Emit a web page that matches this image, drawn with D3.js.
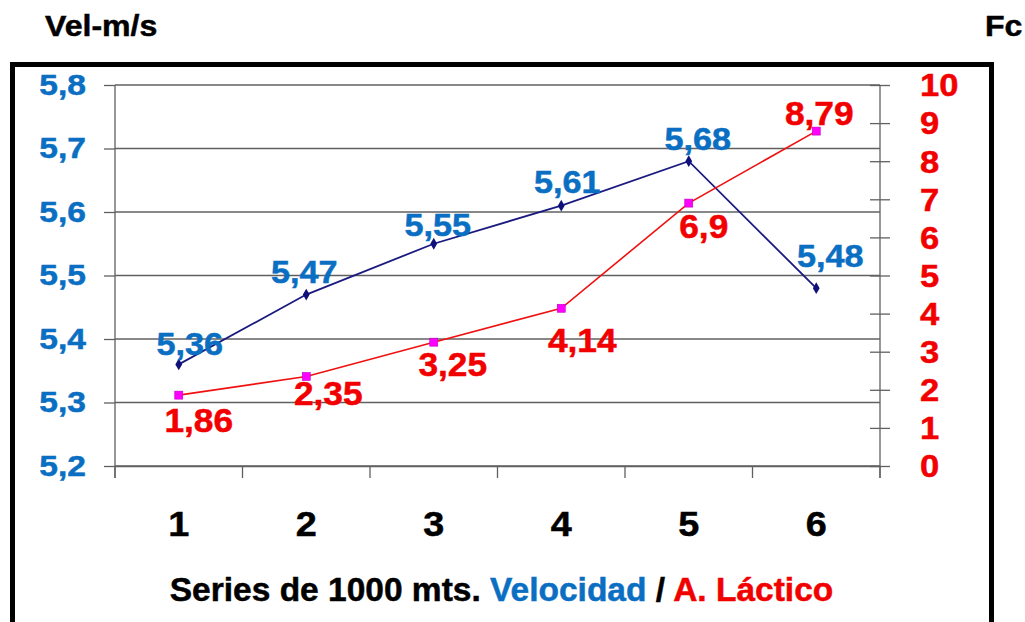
<!DOCTYPE html>
<html>
<head>
<meta charset="utf-8">
<script src="https://cdn.jsdelivr.net/npm/d3@7"></script>
<style>
  body { margin: 0; background: #fff; }
  text { font-family: "Liberation Sans", Arial, sans-serif; font-weight: bold; }
</style>
</head>
<body>
<div id="app"></div>
<script>
// data
const series = ['1', '2', '3', '4', '5', '6']
const velocidad = [5.36, 5.47, 5.55, 5.61, 5.68, 5.48]
const lactico = [1.86, 2.35, 3.25, 4.14, 6.9, 8.79]
const velTicks = [5.2, 5.3, 5.4, 5.5, 5.6, 5.7, 5.8]
const lacTicks = [0, 1, 2, 3, 4, 5, 6, 7, 8, 9, 10]

// label nudges [dx, dy] from the marker, as placed in the original
const velNudge = [[11, -9], [-2, -12], [4, -8], [6, -13], [9, -11], [14, -21]]
const lacNudge = [[20, 37], [22, 29], [19, 34], [21, 44], [15, 35], [3, -6]]

const BLUE = '#0a6fc2'
const RED = '#f20000'
const comma = (v) => String(v).replace('.', ',')

const W = 1025, H = 622
const pLeft = 115, pRight = 880, pTop = 85, pBottom = 466

// widen text a bit, the original glyphs are broader than Liberation
function stretch(sel, k) {
  sel.each(function () {
    const t = d3.select(this)
    const tx = +t.attr('x') || 0
    const ty = +t.attr('y') || 0
    t.attr('x', 0).attr('y', 0)
      .attr('transform', `translate(${tx},${ty}) scale(${k},1)`)
  })
}
function heavy(sel) {
  sel.attr('stroke', function () { return d3.select(this).attr('fill') })
    .attr('stroke-width', 0.5)
}

const svg = d3.select('#app').append('svg')
  .attr('width', W)
  .attr('height', H)

// frame
svg.append('rect')
  .attr('x', 12.5).attr('y', 64.5)
  .attr('width', 979).attr('height', 620)
  .attr('fill', 'none')
  .attr('stroke', '#000')
  .attr('stroke-width', 5)

// axis titles on top
svg.append('text').attr('x', 45).attr('y', 36)
  .attr('font-size', 30).attr('fill', '#000').text('Vel-m/s')
  .call(stretch, 1.07).call(heavy)
svg.append('text').attr('x', 985).attr('y', 36)
  .attr('font-size', 30).attr('fill', '#000').text('Fc')
  .call(stretch, 1.07).call(heavy)

const x = d3.scaleBand().domain(series).range([pLeft, pRight])
const cx = (d) => x(d) + x.bandwidth() / 2
const yVel = d3.scaleLinear().domain([5.2, 5.8]).range([pBottom, pTop])
const yLac = d3.scaleLinear().domain([0, 10]).range([pBottom, pTop])

// gridlines
svg.append('g')
  .selectAll('line')
  .data(velTicks)
  .join('line')
  .attr('x1', pLeft).attr('x2', pRight)
  .attr('y1', (d) => yVel(d)).attr('y2', (d) => yVel(d))
  .attr('stroke', '#606060')
  .attr('stroke-width', 1.3)

// left axis
const gLeft = svg.append('g')
  .attr('transform', `translate(${pLeft},0)`)
  .call(d3.axisLeft(yVel).tickValues(velTicks).tickSize(11).tickPadding(18).tickFormat(comma))
gLeft.select('.domain').remove()
gLeft.selectAll('.tick line').attr('stroke', '#606060').attr('stroke-width', 1.3)
gLeft.selectAll('.tick text')
  .attr('font-size', 30).attr('fill', BLUE).attr('dy', '0.3em')
  .call(stretch, 1.12).call(heavy)
svg.append('line')
  .attr('x1', pLeft).attr('x2', pLeft).attr('y1', pTop).attr('y2', pBottom + 12)
  .attr('stroke', '#606060').attr('stroke-width', 1.3)

// right axis
const gRight = svg.append('g')
  .attr('transform', `translate(${pRight},0)`)
  .call(d3.axisRight(yLac).tickValues(lacTicks).tickSize(10).tickPadding(30))
gRight.select('.domain').remove()
gRight.selectAll('.tick line')
  .attr('x1', -10).attr('x2', 10)
  .attr('stroke', '#606060').attr('stroke-width', 1.3)
gRight.selectAll('.tick text')
  .attr('font-size', 32).attr('fill', RED).attr('dy', '0.34em')
  .call(stretch, 1.08).call(heavy)
svg.append('line')
  .attr('x1', pRight).attr('x2', pRight).attr('y1', pTop).attr('y2', pBottom + 12)
  .attr('stroke', '#606060').attr('stroke-width', 1.3)

// bottom axis
const gBottom = svg.append('g')
  .attr('transform', `translate(0,${pBottom})`)
  .call(d3.axisBottom(x).tickSize(0).tickPadding(45))
gBottom.select('.domain')
  .attr('stroke', '#606060').attr('stroke-width', 1.3)
gBottom.selectAll('.tick text')
  .attr('font-size', 35).attr('fill', '#000')
  .call(stretch, 1.08).call(heavy)
svg.append('g')
  .selectAll('line')
  .data(series.concat(['end']))
  .join('line')
  .attr('x1', (d, i) => pLeft + i * x.bandwidth())
  .attr('x2', (d, i) => pLeft + i * x.bandwidth())
  .attr('y1', pBottom).attr('y2', pBottom + 12)
  .attr('stroke', '#606060').attr('stroke-width', 1.3)

// x title
const title = svg.append('text')
  .attr('x', (pLeft + pRight) / 2 + 4).attr('y', 601)
  .attr('text-anchor', 'middle')
  .attr('font-size', 33.5)
  .attr('stroke-width', 0.5)
title.append('tspan').attr('fill', '#000').attr('stroke', '#000').text('Series de 1000 mts. ')
title.append('tspan').attr('fill', BLUE).attr('stroke', BLUE).text('Velocidad')
title.append('tspan').attr('fill', '#000').attr('stroke', '#000').text(' / ')
title.append('tspan').attr('fill', RED).attr('stroke', RED).text('A. Láctico')

// velocidad line
svg.append('path')
  .datum(velocidad)
  .attr('d', d3.line().x((d, i) => cx(series[i])).y((d) => yVel(d)))
  .attr('fill', 'none')
  .attr('stroke', '#1a1a80')
  .attr('stroke-width', 1.8)

// lactico line
svg.append('path')
  .datum(lactico)
  .attr('d', d3.line().x((d, i) => cx(series[i])).y((d) => yLac(d)))
  .attr('fill', 'none')
  .attr('stroke', '#f01010')
  .attr('stroke-width', 1.6)

// markers
svg.append('g')
  .selectAll('path')
  .data(velocidad)
  .join('path')
  .attr('d', d3.symbol(d3.symbolDiamond, 40))
  .attr('transform', (d, i) => `translate(${cx(series[i])},${yVel(d)})`)
  .attr('fill', '#10107a')

svg.append('g')
  .selectAll('rect')
  .data(lactico)
  .join('rect')
  .attr('x', (d, i) => cx(series[i]) - 4)
  .attr('y', (d) => yLac(d) - 4)
  .attr('width', 8).attr('height', 8)
  .attr('fill', '#ff00ff')
  .attr('stroke', '#c000c0')
  .attr('stroke-width', 0.6)

// data labels
svg.append('g')
  .selectAll('text')
  .data(velocidad)
  .join('text')
  .attr('x', (d, i) => cx(series[i]) + velNudge[i][0])
  .attr('y', (d, i) => yVel(d) + velNudge[i][1])
  .attr('text-anchor', 'middle')
  .attr('font-size', 32)
  .attr('fill', BLUE)
  .text(comma)
  .call(stretch, 1.07).call(heavy)

svg.append('g')
  .selectAll('text')
  .data(lactico)
  .join('text')
  .attr('x', (d, i) => cx(series[i]) + lacNudge[i][0])
  .attr('y', (d, i) => yLac(d) + lacNudge[i][1])
  .attr('text-anchor', 'middle')
  .attr('font-size', 33)
  .attr('fill', RED)
  .text(comma)
  .call(stretch, 1.07).call(heavy)
</script>
</body>
</html>
